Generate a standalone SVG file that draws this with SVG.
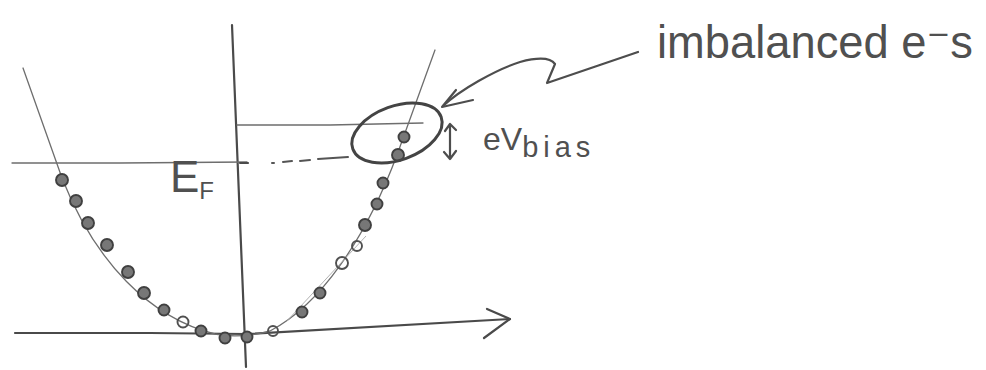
<svg xmlns="http://www.w3.org/2000/svg" width="986" height="370" viewBox="0 0 986 370">
  <defs>
    <style>
      .axis { fill: none; stroke: #4a4a4a; stroke-width: 2.2; stroke-linecap: round; stroke-linejoin: round; }
      .thin { fill: none; stroke: #6e6e6e; stroke-width: 1.3; stroke-linecap: round; }
      .faint { fill: none; stroke: #a8a8a8; stroke-width: 0.9; }
      .dash { fill: none; stroke: #555; stroke-width: 2; stroke-linecap: round; }
      .dot { fill: #777; stroke: #404040; stroke-width: 1.9; }
      .open { fill: none; stroke: #505050; stroke-width: 1.9; }
      .ring { fill: none; stroke: #444; stroke-width: 3; }
      .pen { fill: none; stroke: #4d4d4d; stroke-width: 2.2; stroke-linecap: round; stroke-linejoin: round; }
      .hand { font-family: "Liberation Sans", "DejaVu Sans", sans-serif; fill: #505050; }
    </style>
  </defs>
  <rect width="986" height="370" fill="#ffffff"/>

  <!-- energy / momentum axes -->
  <g id="axes">
    <path class="axis" d="M232,25 L246,367"/>
    <path class="axis" d="M15,333 L150,333 L247,334 L510,319"/>
    <path class="axis" d="M487,309 L510,319 L484,338"/>
  </g>

  <!-- Fermi level and bias level -->
  <g id="levels">
    <path class="thin" d="M12,163 L120,163 L247,162"/>
    <path class="axis" d="M240,163 L248,163"/>
    <path class="dash" d="M272,163 L274,163 M283,162 L292,161 M300,161 L310,160 M318,159 L348,157"/>
    <path class="thin" d="M237,125 L330,125 L423,123"/>
  </g>

  <!-- dispersion parabola -->
  <g id="parabola">
    <path class="thin" d="M23,68 L62,178 C95,262 150,318 215,334 Q240,339 270,331 C320,305 365,240 397,155 L435,50"/>
    <path class="faint" d="M286,322 L366,236"/>
  </g>

  <!-- occupied states -->
  <g id="electrons">
    <circle class="dot" cx="62" cy="180" r="6"/>
    <circle class="dot" cx="76" cy="201" r="6"/>
    <circle class="dot" cx="88" cy="223" r="6"/>
    <circle class="dot" cx="107" cy="245" r="6"/>
    <circle class="dot" cx="128" cy="272" r="6"/>
    <circle class="dot" cx="144" cy="293" r="6"/>
    <circle class="dot" cx="164" cy="310" r="5.5"/>
    <circle class="open" cx="183" cy="322" r="5.5"/>
    <circle class="dot" cx="201" cy="331" r="5.5"/>
    <circle class="dot" cx="225" cy="338" r="5.5"/>
    <circle class="dot" cx="247" cy="337" r="5.5"/>
    <circle class="open" cx="273" cy="331" r="5"/>
    <circle class="dot" cx="302" cy="312" r="5.5"/>
    <circle class="dot" cx="320" cy="293" r="5.5"/>
    <circle class="open" cx="342" cy="263" r="6"/>
    <circle class="open" cx="357" cy="246" r="5"/>
    <circle class="dot" cx="365" cy="225" r="6"/>
    <circle class="dot" cx="377" cy="204" r="5.5"/>
    <circle class="dot" cx="383" cy="183" r="5.5"/>
    <circle class="dot" cx="398" cy="155" r="6"/>
    <circle class="dot" cx="404" cy="137" r="5.5"/>
  </g>

  <!-- excess electrons between the two levels -->
  <g id="imbalance-ring">
    <ellipse class="ring" cx="397" cy="133" rx="47" ry="27" transform="rotate(-20 397 133)"/>
  </g>

  <!-- bias span marker -->
  <g id="bias-marker">
    <path class="pen" d="M445,131 L450,124 L456,130 M450,124 L450,158 M444,152 L450,159 L456,151" stroke-width="1.8"/>
  </g>

  <!-- labels -->
  <g id="label-ef">
    <text class="hand" x="170" y="192" font-size="44">E<tspan font-size="24" dy="7">F</tspan></text>
  </g>
  <g id="label-bias">
    <text class="hand" x="483" y="150" font-size="32">eV<tspan font-size="29" dy="7" letter-spacing="5">bias</tspan></text>
  </g>
  <g id="label-imbalanced">
    <text class="hand" x="657" y="58" font-size="46" textLength="316" lengthAdjust="spacingAndGlyphs">imbalanced e⁻s</text>
  </g>

  <!-- pointer from the label to the ring -->
  <g id="connectors">
    <path class="pen" d="M638,52 L547,83 L555,64 C550,57 535,58 520,62 C495,70 460,90 443,106"/>
    <path class="pen" d="M456,90 L442,107 L473,100"/>
  </g>
</svg>
